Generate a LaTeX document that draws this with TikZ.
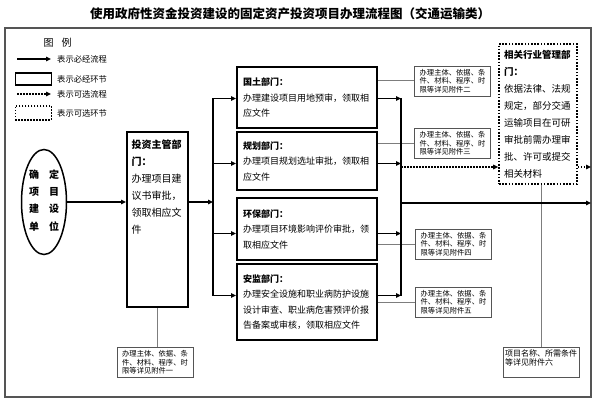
\documentclass[tikz,border=0pt]{standalone}
\usepackage{fontspec}
\setmainfont{Noto Sans CJK SC}
\usepackage{xcolor}
\usepackage{tikz}
\usetikzlibrary{positioning,arrows.meta,shapes.geometric}
\definecolor{grisl}{RGB}{125,125,125}
\definecolor{grisc}{RGB}{85,85,85}

\begin{document}
\begin{tikzpicture}[x=1pt, y=-1pt,
  dept/.style={rectangle, draw, line width=2pt, minimum width=140pt, minimum height=#1,
               text width=128pt, align=left, inner sep=0pt, font=\fontsize{9}{15.5}\selectfont},
  note/.style={rectangle, draw=grisc, line width=0.8pt, minimum width=76pt, minimum height=30pt,
               inner sep=2pt, align=left, font=\fontsize{7.3}{8.5}\selectfont},
  lgt/.style={anchor=west, inner sep=0pt, font=\fontsize{8.3}{10}\selectfont},
  fl/.style={-{Triangle[length=5pt,width=4.5pt]}, line width=1.5pt},
  fld/.style={fl, dash pattern=on 1.5pt off 1.5pt},
  bus/.style={line width=1.5pt, line cap=rect},
  gl/.style={draw=grisl, line width=1pt}]

\useasboundingbox (0,0) rectangle (594,409);

% titre et cadre
\node[font=\fontsize{12.5}{14}\selectfont\bfseries] (titre) at (290,14)
  {使用政府性资金投资建设的固定资产投资项目办理流程图（交通运输类）};
\node[draw=grisc, line width=1.2pt, minimum width=586pt, minimum height=369pt, inner sep=0pt] (cadre) at (298,212.5) {};

% ── légende ──
\node[font=\fontsize{10}{12}\selectfont] (leg) at (57.5,43) {图\hspace{8pt}例};
\node[lgt] (lg1) at (57,59) {表示必经流程};
\node[lgt] (lg2) at (57,79) {表示必经环节};
\node[lgt] (lg3) at (57,94) {表示可选流程};
\node[lgt] (lg4) at (57,113) {表示可选环节};
\draw[fl] ([xshift=-40pt]lg1.west) -- ([xshift=-6pt]lg1.west);
\node[draw, line width=1.5pt, minimum width=36pt, minimum height=12pt, inner sep=0pt, left=5pt of lg2] (lgb2) {};
\draw[fld] ([xshift=-40pt]lg3.west) -- ([xshift=-6pt]lg3.west);
\node[draw, line width=1.5pt, dash pattern=on 1.5pt off 1.5pt, minimum width=36pt, minimum height=14pt,
      inner sep=0pt, left=5pt of lg4] (lgb4) {};

% ── gauche : unité et département ──
\node[ellipse, draw, line width=1.5pt, minimum width=45pt, minimum height=105pt, inner sep=0pt,
      font=\fontsize{10}{12}\selectfont\bfseries] (unite) at (44,202)
  {\begin{tabular}{@{}c@{\hspace{10pt}}c@{}}确&定\\[5pt]项&目\\[5pt]建&设\\[5pt]单&位\end{tabular}};
\node[draw, line width=2pt, minimum width=61pt, minimum height=175pt, inner sep=0pt] (invest) at (157.5,219.5)
  {\parbox[t][160pt][t]{52pt}{\fontsize{10}{17}\selectfont
   \textbf{投资主管部}\\\textbf{门：}\\办理项目建\\议书审批，\\领取相应文\\件}};
\node[note] (n1) at (155,362.5) {办理主体、依据、条\\件、材料、程序、时\\限等详见附件一};

% ── milieu : les quatre départements ──
\node[dept=61pt] (land) at (307,97.5) {\textbf{国土部门：}\\办理建设项目用地预审，领取相\\应文件};
\node[dept=58pt] (plan) at (307,161) {\textbf{规划部门：}\\办理项目规划选址审批，领取相\\应文件};
\node[dept=62pt] (env) at (307,229) {\textbf{环保部门：}\\办理项目环境影响评价审批，领\\取相应文件};
\node[dept=76pt] (safe) at (307,302)
  {\textbf{安监部门：}\\办理安全设施和职业病防护设施\\设计审查、职业病危害预评价报\\告备案或审核，领取相应文件};

\node[note] (n2) at (452.5,81) {办理主体、依据、条\\件、材料、程序、时\\限等详见附件二};
\node[note] (n3) at (452.5,143.5) {办理主体、依据、条\\件、材料、程序、时\\限等详见附件三};
\node[note] (n4) at (453.5,244) {办理主体、依据、条\\件、材料、程序、时\\限等详见附件四};
\node[note] (n5) at (453.5,302) {办理主体、依据、条\\件、材料、程序、时\\限等详见附件五};

% ── droite : secteur ──
\node[draw, line width=1.6pt, dash pattern=on 1.6pt off 1.6pt, minimum width=78pt, minimum height=140pt,
      text width=68pt, align=left, inner sep=0pt, font=\fontsize{9.5}{17}\selectfont] (secteur) at (538,114)
  {\textbf{相关行业管理部}\\\textbf{门：}\\依据法律、法规\\规定，部分交通\\运输项目在可研\\审批前需办理审\\批、许可或提交\\相关材料};
\node[note, font=\fontsize{8}{9}\selectfont] (n6) at (541,362) {项目名称、所需条件\\等详见附件六\\\mbox{}};

% ── connecteurs ──
\coordinate (busG) at (213,0);
\coordinate (busD) at (401,0);
\coordinate (sortie) at (591,203);
\coordinate (pointil) at (401,167);
\path ([yshift=-1pt]land.west) coordinate (W-land) ([yshift=-1pt]land.east) coordinate (E-land)
      ([yshift=-2.5pt]plan.west) coordinate (W-plan) ([yshift=-2.5pt]plan.east) coordinate (E-plan)
      ([yshift=-4.5pt]env.west) coordinate (W-env) ([yshift=-4.5pt]env.east) coordinate (E-env)
      ([yshift=6.5pt]safe.west) coordinate (W-safe) ([yshift=6.5pt]safe.east) coordinate (E-safe);

\draw[gl] (invest.south) -- (invest.south |- n1.north);
\draw[gl] (n2.west -| land.east) -- (n2.west);
\draw[gl] (n3.west -| plan.east) -- (n3.west);
\draw[gl] (n4.west -| env.east) -- (n4.west);
\draw[gl] (n5.west -| safe.east) -- (n5.west);
\draw[gl] (secteur.south -| n6.north) -- (n6.north);

\draw[fl] (unite) -- (unite -| invest.west);
\draw[fl] (invest.east |- unite) -- (busG |- unite);
\draw[bus] (busG |- W-land) -- (busG |- W-safe);
\draw[bus] (busD |- E-land) -- (busD |- E-safe);
\foreach \d in {land,plan,env,safe} {
  \draw[fl] (busG |- W-\d) -- (W-\d);
  \draw[fl] (E-\d) -- (busD |- E-\d);
}
\draw[fl] (busD |- sortie) -- (sortie);
\draw[fld] (pointil) -- (pointil -| secteur.west);
\draw[fld] (pointil -| secteur.east) -- (pointil -| sortie);

\end{tikzpicture}
\end{document}
